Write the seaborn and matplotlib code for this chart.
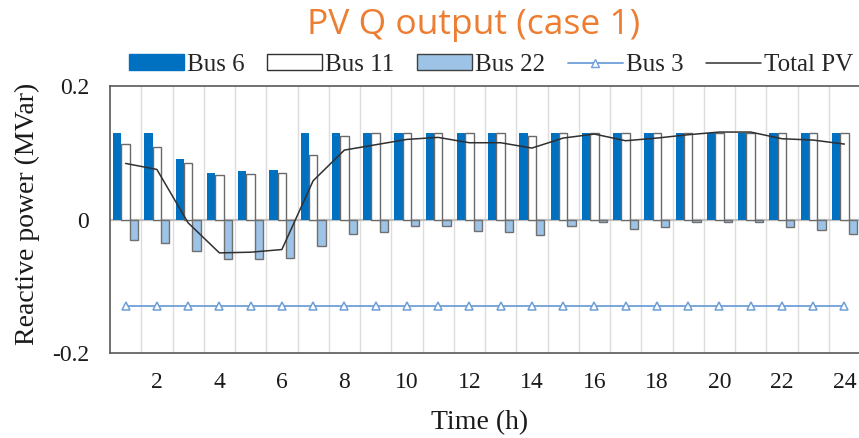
import numpy as np
import pandas as pd
import matplotlib
matplotlib.use("Agg")
import matplotlib.pyplot as plt
import seaborn as sns
from matplotlib.patches import Patch
from matplotlib.lines import Line2D

# Hourly reactive power output of the PV units (MVar)
hours = list(range(1, 25))
bus6 = [0.13, 0.13, 0.09, 0.07, 0.072, 0.074, 0.13, 0.13, 0.13, 0.13, 0.13, 0.13,
        0.13, 0.13, 0.13, 0.13, 0.13, 0.13, 0.13, 0.13, 0.13, 0.13, 0.13, 0.13]
bus11 = [0.113, 0.108, 0.084, 0.066, 0.068, 0.070, 0.096, 0.125, 0.13, 0.13, 0.13, 0.13,
         0.13, 0.125, 0.13, 0.13, 0.13, 0.13, 0.13, 0.13, 0.13, 0.13, 0.13, 0.13]
bus22 = [-0.031, -0.035, -0.047, -0.059, -0.059, -0.057, -0.040, -0.022, -0.018, -0.010,
         -0.010, -0.017, -0.018, -0.023, -0.010, -0.004, -0.014, -0.011, -0.004, -0.003,
         -0.003, -0.011, -0.015, -0.021]
bus3 = [-0.13, -0.13, -0.13, -0.13, -0.13, -0.13, -0.13, -0.13, -0.13, -0.13, -0.13, -0.13,
        -0.13, -0.13, -0.13, -0.13, -0.13, -0.13, -0.13, -0.13, -0.13, -0.13, -0.13, -0.13]
total_pv = [0.084, 0.075, -0.005, -0.050, -0.049, -0.045, 0.058, 0.104, 0.112, 0.120,
            0.123, 0.115, 0.115, 0.107, 0.122, 0.128, 0.118, 0.122, 0.127, 0.131,
            0.131, 0.121, 0.119, 0.113]

bar_names = ["Bus 6", "Bus 11", "Bus 22"]
y_ticks = [-0.2, 0, 0.2]
y_ticklabels = ["-0.2", "0", "0.2"]
x_ticks = list(range(2, 25, 2))

bars = pd.DataFrame({
    "hour": hours * 3,
    "q": bus6 + bus11 + bus22,
    "bus": [bar_names[0]] * 24 + [bar_names[1]] * 24 + [bar_names[2]] * 24,
})
lines = pd.DataFrame({"hour": hours, "bus3": bus3, "total": total_pv})

C_BUS6 = "#0070C0"
C_BUS22 = "#9DC3E6"
C_BUS3 = "#6E9FD8"
C_TOTAL = "#303030"
C_TITLE = "#ED7D31"

sns.set_theme(style="white")
plt.rcParams["font.family"] = ["Liberation Serif", "DejaVu Serif"]

fig = plt.figure(figsize=(8.59, 4.38), dpi=100)
ax = fig.add_axes([110 / 859, 85 / 438, 750 / 859, 267 / 438])

sns.barplot(data=bars, x="hour", y="q", hue="bus", hue_order=bar_names,
            native_scale=True, width=0.8, dodge=True, errorbar=None,
            palette=[C_BUS6, "white", C_BUS22], legend=False, ax=ax, zorder=3)

styles = [(C_BUS6, C_BUS6, 0.0), ("white", "#6a6a6a", 1.0), (C_BUS22, "#707070", 1.0)]
for cont, (fc, ec, lw) in zip(ax.containers, styles):
    for p in cont:
        p.set_facecolor(fc)
        p.set_edgecolor(ec)
        p.set_linewidth(lw)
        p.set_zorder(3)

sns.lineplot(data=lines, x="hour", y="bus3", color=C_BUS3, lw=1.3, marker="^",
             markersize=6, markerfacecolor="white", markeredgecolor=C_BUS3,
             markeredgewidth=1.1, ax=ax, zorder=4)
sns.lineplot(data=lines, x="hour", y="total", color=C_TOTAL, lw=1.1, ax=ax, zorder=5)

# Axis line at zero and light separators between hours
ax.axhline(0, color="#BFBFBF", lw=1.6, zorder=2)
for b in np.arange(1.5, 24.5, 1.0):
    ax.axvline(b, color="#DCDCDC", lw=1.0, zorder=1)

ax.set_xlim(0.5, 24.5)
ax.set_ylim(-0.2, 0.2)
ax.set_xticks(x_ticks)
ax.set_xticklabels([str(t) for t in x_ticks])
ax.set_yticks(y_ticks)
ax.set_yticklabels(y_ticklabels)
ax.tick_params(axis="x", length=0, pad=14, labelsize=17, colors="#1a1a1a")
ax.tick_params(axis="y", length=0, pad=15, labelsize=17, colors="#1a1a1a")
ax.grid(False)

for side in ["left", "top", "bottom"]:
    ax.spines[side].set_color("#595959")
    ax.spines[side].set_linewidth(1.2)
ax.spines["right"].set_visible(False)

ax.set_xlabel("Time (h)", fontsize=20, color="#1a1a1a")
ax.set_ylabel("Reactive power (MVar)", fontsize=20, color="#1a1a1a")
ax.xaxis.set_label_coords(0.493, -0.212)
ax.yaxis.set_label_coords(-0.093, 0.52)

handles = [
    Patch(facecolor=C_BUS6, edgecolor=C_BUS6),
    Patch(facecolor="white", edgecolor="#303030", linewidth=1.0),
    Patch(facecolor=C_BUS22, edgecolor="#404040", linewidth=1.0),
    Line2D([], [], color=C_BUS3, lw=1.3, marker="^", markersize=6,
           markerfacecolor="white", markeredgecolor=C_BUS3),
    Line2D([], [], color=C_TOTAL, lw=1.1),
]
labels = ["Bus 6", "Bus 11", "Bus 22", "Bus 3", "Total PV"]
fig.legend(handles, labels, loc="center", bbox_to_anchor=(491 / 859, 1 - 65 / 438),
           ncol=5, frameon=False, fontsize=18, handlelength=2.2, handleheight=0.6,
           handletextpad=0.12, columnspacing=0.9, borderaxespad=0, borderpad=0)

fig.text(474 / 859, 1 - 25 / 438, "PV Q output (case 1)", ha="center", va="center",
         fontsize=25.5, color=C_TITLE, family=["Open Sans", "DejaVu Sans"])

fig.savefig("out.png", dpi=100)
